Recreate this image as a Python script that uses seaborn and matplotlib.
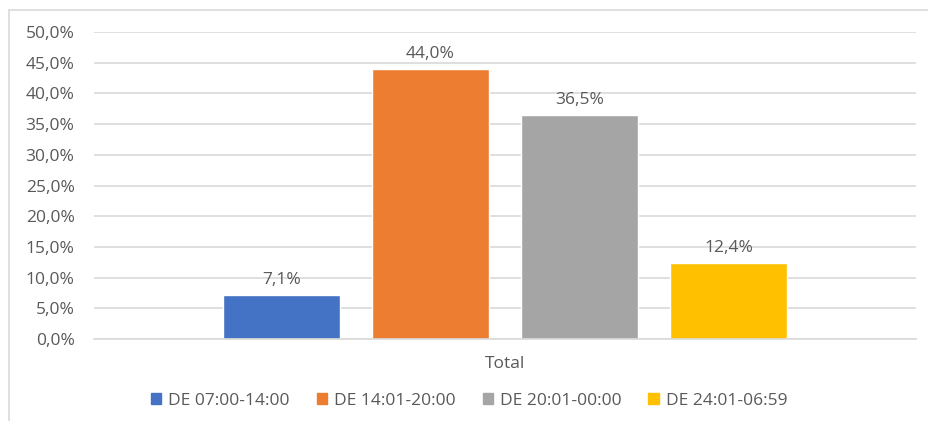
import pandas as pd
import seaborn as sns
import matplotlib.pyplot as plt
from matplotlib.ticker import FuncFormatter
from matplotlib.lines import Line2D

# data
category = ["Total"]
periods = ["DE 07:00-14:00", "DE 14:01-20:00", "DE 20:01-00:00", "DE 24:01-06:59"]
shares = [7.1, 44.0, 36.5, 12.4]
colors = ["#4472C4", "#ED7D31", "#A5A5A5", "#FFC000"]

TEXT = "#595959"
FS = 12.5

def pct_comma(value, _):
    return f"{value:.1f}%".replace(".", ",")

df = pd.DataFrame({"cat": category * len(periods), "period": periods, "share": shares})

sns.set_style("white")
plt.rcParams["font.family"] = ["Open Sans", "DejaVu Sans"]

fig = plt.figure(figsize=(9.29, 4.21), dpi=100)
ax = fig.add_axes([94 / 929, 1 - 339 / 421, (916 - 94) / 929, (339 - 32) / 421])

sns.barplot(data=df, x="cat", y="share", hue="period", palette=colors,
            width=0.725, gap=0.215, ax=ax, legend=False, saturation=1)

ax.set_ylim(0, 50)
ax.set_xlim(-0.5, 0.5)
ax.set_yticks(range(0, 51, 5))
ax.yaxis.set_major_formatter(FuncFormatter(pct_comma))
ax.grid(axis="y", color="#D9D9D9", linewidth=1.2)
ax.set_axisbelow(True)
for side in ["top", "right", "left"]:
    ax.spines[side].set_visible(False)
ax.spines["bottom"].set_color("#D9D9D9")
ax.spines["bottom"].set_linewidth(1.2)
ax.tick_params(axis="y", length=0, pad=14, labelsize=FS, labelcolor=TEXT)
ax.tick_params(axis="x", length=0, pad=12, labelsize=FS, labelcolor=TEXT)
ax.set_xlabel("")
ax.set_ylabel("")

for container in ax.containers:
    ax.bar_label(container, labels=[pct_comma(v, None) for v in container.datavalues],
                 padding=5, fontsize=FS, color=TEXT)

handles = [plt.Rectangle((0, 0), 1, 1, color=c) for c in colors]
fig.legend(handles, periods, loc="center", bbox_to_anchor=(0.505, 1 - 401 / 421),
           ncol=4, frameon=False, fontsize=FS, labelcolor=TEXT,
           handlelength=0.6, handleheight=0.6, handletextpad=0.4, columnspacing=1.55)

# chart frame (only left and top edges are in the screenshot)
fig.add_artist(Line2D([9 / 929, 9 / 929], [0, 1 - 10 / 421], color="#D9D9D9", linewidth=1.2))
fig.add_artist(Line2D([9 / 929, 1], [1 - 10 / 421, 1 - 10 / 421], color="#D9D9D9", linewidth=1.2))

fig.savefig("out.png", dpi=100)
